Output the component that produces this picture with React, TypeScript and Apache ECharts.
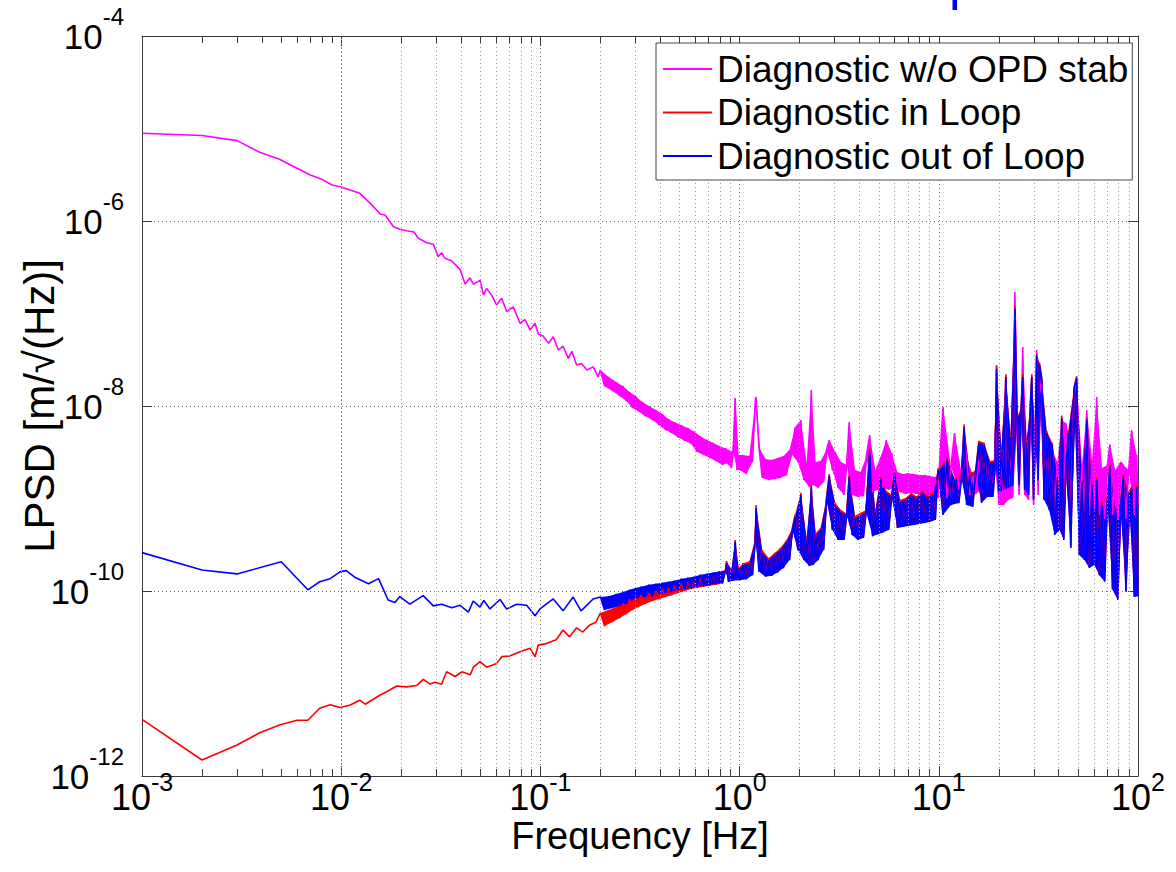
import React, { useEffect, useRef } from 'react';
import * as echarts from 'echarts';

const FONT = "'Liberation Sans', Arial, Helvetica, sans-serif";

const seriesNames = ['Diagnostic w/o OPD stab', 'Diagnostic in Loop', 'Diagnostic out of Loop'];
const seriesColors = ['#FF00FF', '#FF0000', '#0000FF'];
const xAxisTitle = 'Frequency [Hz]';
const yAxisTitle = 'LPSD [m/\u221A(Hz)]';
const croppedTitle = 'p';

// ---- low-frequency parts (read point by point) ----
const magentaLowF = [0.001, 0.002, 0.003, 0.0039, 0.0049, 0.006, 0.007, 0.008, 0.009, 0.0099,
  0.0124, 0.014, 0.0157, 0.0166, 0.0183, 0.0197, 0.0213, 0.0232, 0.0244, 0.0269,
  0.029, 0.0307, 0.0319, 0.0332, 0.0359, 0.0395, 0.0419, 0.0443, 0.0461, 0.0498,
  0.0518, 0.0537, 0.0569, 0.0603, 0.0639, 0.0677, 0.0731, 0.079, 0.0837, 0.0887,
  0.094, 0.0975, 0.103, 0.11, 0.116, 0.123, 0.13, 0.138, 0.144, 0.152,
  0.161, 0.171, 0.184, 0.195];
const magentaLow = [8.9e-6, 8.4e-6, 7.4e-6, 5.53e-6, 4.65e-6, 3.72e-6, 3.14e-6, 2.82e-6, 2.45e-6, 2.35e-6,
  1.99e-6, 1.55e-6, 1.19e-6, 1.16e-6, 8.67e-7, 8.13e-7, 7.85e-7, 7.6e-7, 6.5e-7, 5.83e-7,
  5.6e-7, 4.11e-7, 4.55e-7, 3.95e-7, 3.7e-7, 3.0e-7, 2.08e-7, 2.43e-7, 2.08e-7, 2.28e-7,
  1.58e-7, 1.87e-7, 1.58e-7, 1.24e-7, 1.46e-7, 1.05e-7, 1.18e-7, 7.84e-8, 8.6e-8, 6.64e-8,
  7.84e-8, 6.0e-8, 5.72e-8, 4.77e-8, 5.6e-8, 4.03e-8, 4.43e-8, 3.27e-8, 3.9e-8, 2.77e-8,
  2.88e-8, 2.45e-8, 2.65e-8, 2.07e-8];

const redLowF = [0.001, 0.002, 0.003, 0.0039, 0.0049, 0.006, 0.0068, 0.0078, 0.0088, 0.0099,
  0.0111, 0.0124, 0.0132, 0.0157, 0.0169, 0.019, 0.0213, 0.0239, 0.0258, 0.0279,
  0.0296, 0.0319, 0.0338, 0.0373, 0.0404, 0.0444, 0.0461, 0.0498, 0.0537, 0.0603,
  0.0639, 0.07, 0.079, 0.0887, 0.094, 0.0975, 0.107, 0.12, 0.13, 0.14,
  0.152, 0.163, 0.177, 0.19];
const redLow = [4.1e-12, 1.49e-12, 2.16e-12, 2.94e-12, 3.56e-12, 4.0e-12, 4.0e-12, 5.4e-12, 5.9e-12, 5.5e-12,
  5.86e-12, 6.6e-12, 5.97e-12, 7.5e-12, 8.15e-12, 9.4e-12, 9.2e-12, 9.5e-12, 1.11e-11, 9.9e-12,
  1.03e-11, 9.8e-12, 1.34e-11, 1.19e-11, 1.34e-11, 1.24e-11, 1.5e-11, 1.72e-11, 1.5e-11, 1.65e-11,
  1.95e-11, 1.98e-11, 2.2e-11, 2.4e-11, 1.95e-11, 2.6e-11, 2.7e-11, 2.97e-11, 3.78e-11, 3.2e-11,
  4.0e-11, 3.6e-11, 4.3e-11, 4.6e-11];

const blueLowF = [0.001, 0.002, 0.003, 0.005, 0.0068, 0.0078, 0.0088, 0.0099, 0.0106, 0.0117,
  0.0137, 0.0154, 0.0172, 0.0186, 0.0197, 0.0221, 0.0258, 0.029, 0.0319, 0.0359,
  0.0395, 0.0435, 0.046, 0.0498, 0.052, 0.0558, 0.0627, 0.0677, 0.076, 0.0853,
  0.094, 0.0995, 0.116, 0.13, 0.146, 0.16, 0.184];
const blueLow = [2.6e-10, 1.69e-10, 1.53e-10, 2.07e-10, 1.03e-10, 1.26e-10, 1.36e-10, 1.62e-10, 1.66e-10, 1.41e-10,
  1.2e-10, 1.36e-10, 8.0e-11, 7.5e-11, 8.7e-11, 7.2e-11, 8.9e-11, 6.9e-11, 7.2e-11, 6.6e-11,
  7.0e-11, 5.9e-11, 7.8e-11, 6.7e-11, 7.9e-11, 6.4e-11, 8.1e-11, 6.4e-11, 7.2e-11, 7.0e-11,
  5.4e-11, 6.4e-11, 8.2e-11, 6.1e-11, 8.6e-11, 6.1e-11, 8.2e-11];

// ---- dense noisy part: shared frequency bins 0.2 Hz .. 100 Hz ----
const bandFreq = [
  0.20, 0.21, 0.22, 0.23, 0.24, 0.25, 0.26, 0.27, 0.28, 0.29,
  0.30, 0.31, 0.32, 0.335, 0.35, 0.365, 0.38, 0.395, 0.41, 0.425,
  0.44, 0.455, 0.47, 0.49, 0.51, 0.53, 0.55, 0.57, 0.59, 0.61,
  0.635, 0.66, 0.685, 0.71, 0.735, 0.76, 0.79, 0.82, 0.85, 0.86,
  0.88, 0.91, 0.93, 0.95, 0.97, 0.99,
  1.0, 1.04, 1.08, 1.12, 1.16, 1.2, 1.21, 1.25, 1.3, 1.35,
  1.4, 1.45, 1.5, 1.55, 1.6, 1.66, 1.72, 1.78, 1.84, 1.9,
  1.96, 2.03, 2.1, 2.17, 2.24, 2.29, 2.34, 2.41, 2.48, 2.55,
  2.64, 2.73, 2.82, 2.92, 3.02, 3.12, 3.23, 3.34, 3.45, 3.55,
  3.67, 3.8, 3.92, 4.05, 4.18, 4.32, 4.5, 4.65, 4.8, 4.95,
  5.1, 5.25, 5.45, 5.6, 5.8, 6.0, 6.2, 6.4, 6.6, 6.8,
  7.0, 7.25, 7.5, 7.75, 8.0, 8.25, 8.5, 8.75, 9.0, 9.3,
  9.6, 9.9,
  10, 10.5, 11, 11.5, 12, 12.6, 13, 13.4, 13.8, 14.3,
  14.8, 15.3, 15.9, 16.4, 16.9, 17.5, 18.1, 18.7, 19.2, 19.5,
  20, 20.6, 21.2, 21.7, 22.3, 22.9, 23.5, 24.1, 24.7, 25.3,
  25.9, 26.4, 27, 27.6, 28.2, 28.8, 29.3, 29.9, 30.5, 31,
  31.5, 32, 32.9, 33.8, 34.8, 35.8, 37.1, 38.2, 39.4, 40.4,
  41.4, 42.4, 43.4, 44.7, 46, 47.7, 49.2, 50.7, 52.3, 53.8,
  55.3, 57, 58.8, 60.4, 62, 64, 66, 68, 70.2, 72.3,
  74.5, 76.8, 79.2, 81.7, 84.4, 87, 89.8, 92.9, 95.8, 98.5,
  100];

const magentaBand = [
  2.45e-8, 1.64e-8, 2.06e-8, 1.45e-8, 1.82e-8, 1.28e-8, 1.64e-8, 1.13e-8, 1.42e-8, 9.5e-9,
  1.28e-8, 8.8e-9, 1.13e-8, 7.8e-9, 1.0e-8, 7.06e-9, 9.06e-9, 6.2e-9, 8.2e-9, 5.5e-9,
  7.2e-9, 5.1e-9, 6.7e-9, 4.6e-9, 6.2e-9, 4.2e-9, 5.8e-9, 3.9e-9, 5.3e-9, 3.2e-9,
  4.7e-9, 2.95e-9, 4.3e-9, 2.74e-9, 4.0e-9, 2.54e-9, 3.7e-9, 2.3e-9, 3.5e-9, 2.4e-9,
  3.34e-9, 2.14e-9, 3.2e-9, 1.22e-8, 2.03e-9, 2.95e-9,
  2.03e-9, 2.95e-9, 1.84e-9, 2.88e-9, 2.48e-9, 1.16e-8, 1.25e-8, 3.6e-9, 1.67e-9, 2.67e-9,
  1.58e-9, 2.61e-9, 1.62e-9, 2.74e-9, 1.67e-9, 2.88e-9, 1.78e-9, 3.34e-9, 2.95e-9, 5.93e-9,
  2.48e-9, 7.06e-9, 1.58e-9, 2.42e-9, 1.33e-9, 1.49e-8, 1.4e-9, 2.48e-9, 1.3e-9, 2.54e-9,
  1.5e-9, 3.34e-9, 4.29e-9, 2.03e-9, 3.2e-9, 1.3e-9, 2.48e-9, 1.09e-9, 2.3e-9, 6.7e-9,
  1.09e-9, 2.03e-9, 1.04e-9, 1.93e-9, 1.06e-9, 2.81e-9, 4.85e-9, 1.17e-9, 2.03e-9, 1.24e-9,
  2.81e-9, 1.3e-9, 4.29e-9, 1.24e-9, 3.1e-9, 1.3e-9, 1.93e-9, 1.17e-9, 1.84e-9, 1.12e-9,
  1.88e-9, 1.15e-9, 1.84e-9, 1.12e-9, 1.8e-9, 1.09e-9, 1.8e-9, 1.06e-9, 1.75e-9, 1.04e-9,
  1.71e-9, 1.01e-9,
  1.75e-9, 9.75e-9, 1.01e-9, 2.2e-9, 5.1e-9, 1.24e-9, 1.9e-9, 4.29e-9, 2.81e-9, 1.09e-9,
  1.8e-9, 1.12e-9, 2.6e-9, 1.24e-9, 3.2e-9, 1.3e-9, 2.1e-9, 1.24e-9, 2.1e-9, 2.77e-8,
  8.5e-10, 2.95e-9, 8.5e-10, 2.06e-8, 9.64e-10, 4.29e-9, 1.01e-9, 1.71e-7, 5.5e-9, 1.09e-9,
  7.06e-9, 4.35e-8, 1.09e-9, 4.29e-9, 9.64e-10, 7.06e-9, 1.7e-8, 8.5e-10, 4.29e-9, 4.03e-8,
  1.09e-9, 1.91e-8, 1.33e-8, 9.64e-10, 4.29e-9, 8.5e-10, 3.34e-9, 7.52e-10, 2.48e-9, 7.1e-10,
  7.06e-9, 7.1e-10, 6.55e-9, 4.29e-9, 6.64e-10, 1.33e-8, 1.91e-8, 6.64e-10, 2.3e-9, 7.1e-10,
  9.06e-9, 6.64e-10, 2.61e-9, 7.52e-10, 1.25e-8, 6.64e-10, 2.14e-9, 6.0e-10, 2.3e-9, 3.86e-9,
  6.64e-10, 2.03e-9, 5.86e-10, 2.48e-9, 2.3e-9, 6.0e-10, 2.03e-9, 5.51e-9, 6.64e-10, 2.95e-9,
  8.5e-10];

const redBand = [
  5.78e-11, 4.19e-11, 6.24e-11, 4.63e-11, 6.7e-11, 5.1e-11, 7.4e-11, 5.64e-11, 8.2e-11, 6.24e-11,
  8.6e-11, 6.7e-11, 9.0e-11, 7.25e-11, 9.5e-11, 7.8e-11, 1.0e-10, 8.2e-11, 1.05e-10, 8.6e-11,
  1.08e-10, 9.0e-11, 1.14e-10, 9.5e-11, 1.2e-10, 1.0e-10, 1.26e-10, 1.05e-10, 1.31e-10, 1.08e-10,
  1.39e-10, 1.11e-10, 1.46e-10, 1.14e-10, 1.54e-10, 1.17e-10, 1.62e-10, 1.2e-10, 1.69e-10, 2.1e-10,
  1.26e-10, 1.73e-10, 1.31e-10, 3.56e-10, 1.34e-10, 1.77e-10,
  1.34e-10, 2.0e-10, 1.37e-10, 2.1e-10, 1.52e-10, 3.74e-10, 8.5e-10, 1.66e-10, 2.77e-10, 1.46e-10,
  2.27e-10, 1.5e-10, 2.58e-10, 1.62e-10, 2.92e-10, 1.82e-10, 3.56e-10, 2.2e-10, 4.8e-10, 6.7e-10,
  2.84e-10, 1.15e-9, 2.2e-10, 3.74e-10, 1.91e-10, 1.4e-9, 1.96e-10, 4.23e-10, 2.2e-10, 4.8e-10,
  2.84e-10, 1.01e-9, 1.84e-9, 4.7e-10, 9.0e-10, 3.65e-10, 7.5e-10, 3.65e-10, 6.9e-10, 1.8e-9,
  4.13e-10, 6.5e-10, 3.65e-10, 7.0e-10, 3.84e-10, 7.5e-10, 3.45e-9, 4.0e-10, 7.5e-10, 4.2e-10,
  1.72e-9, 4.4e-10, 1.21e-9, 4.7e-10, 1.1e-9, 1.94e-9, 4.9e-10, 9.7e-10, 5.05e-10, 1.01e-9,
  5.17e-10, 1.15e-9, 5.3e-10, 1.06e-9, 5.45e-10, 1.21e-9, 5.58e-10, 1.09e-9, 5.7e-10, 1.15e-9,
  6.0e-10, 2.08e-9,
  2.1e-9, 6.9e-10, 2.75e-9, 8.8e-10, 1.66e-9, 9.2e-10, 1.75e-9, 6.3e-9, 8.8e-10, 1.9e-9,
  8.4e-10, 1.98e-9, 4.2e-9, 9.2e-10, 4.0e-9, 1.08e-9, 2.55e-9, 1.08e-9, 2.6e-9, 2.7e-8,
  1.21e-9, 3.4e-9, 1.28e-9, 2.2e-8, 1.35e-9, 4.9e-9, 1.42e-9, 1.2e-7, 7.5e-9, 1.45e-9,
  9.6e-9, 2.2e-8, 1.28e-9, 4.2e-9, 1.13e-9, 1.04e-8, 2.2e-8, 1.0e-9, 4.5e-9, 3.7e-8,
  1.64e-9, 2.95e-8, 2.0e-8, 1.0e-9, 5.4e-9, 7.8e-10, 4.0e-9, 4.2e-10, 1.75e-9, 4.7e-10,
  7.9e-9, 3.7e-10, 2.15e-9, 5.4e-9, 3.0e-10, 1.58e-8, 2.1e-8, 2.55e-10, 1.58e-9, 2.25e-10,
  7.5e-9, 1.84e-10, 1.48e-9, 1.98e-10, 1.66e-9, 1.54e-10, 9.0e-10, 1.31e-10, 1.02e-9, 2.32e-9,
  1.07e-10, 8.0e-10, 8.3e-11, 9.0e-10, 1.82e-9, 1.02e-10, 1.16e-9, 1.32e-9, 9.0e-11, 1.41e-9,
  9.2e-11];

const blueBand = [
  8.6e-11, 6.24e-11, 8.8e-11, 6.55e-11, 9.3e-11, 6.9e-11, 9.75e-11, 7.25e-11, 1.03e-10, 8.0e-11,
  1.08e-10, 8.4e-11, 1.11e-10, 8.6e-11, 1.17e-10, 8.8e-11, 1.2e-10, 9.3e-11, 1.23e-10, 9.5e-11,
  1.26e-10, 9.75e-11, 1.29e-10, 1.03e-10, 1.36e-10, 1.05e-10, 1.39e-10, 1.08e-10, 1.43e-10, 1.11e-10,
  1.5e-10, 1.14e-10, 1.54e-10, 1.17e-10, 1.58e-10, 1.2e-10, 1.62e-10, 1.23e-10, 1.66e-10, 2.0e-10,
  1.26e-10, 1.69e-10, 1.29e-10, 3.4e-10, 1.31e-10, 1.73e-10,
  1.31e-10, 1.91e-10, 1.34e-10, 2.0e-10, 1.48e-10, 3.56e-10, 7.9e-10, 1.62e-10, 2.58e-10, 1.43e-10,
  2.16e-10, 1.46e-10, 2.46e-10, 1.58e-10, 2.77e-10, 1.77e-10, 3.39e-10, 2.16e-10, 4.57e-10, 6.3e-10,
  2.77e-10, 1.09e-9, 2.16e-10, 3.56e-10, 1.86e-10, 1.33e-9, 1.91e-10, 4.03e-10, 2.16e-10, 4.57e-10,
  2.77e-10, 9.64e-10, 1.75e-9, 4.57e-10, 8.5e-10, 3.56e-10, 7.15e-10, 3.56e-10, 6.6e-10, 1.71e-9,
  4.03e-10, 6.15e-10, 3.56e-10, 6.6e-10, 3.74e-10, 7.15e-10, 3.27e-9, 3.9e-10, 7.15e-10, 4.1e-10,
  1.63e-9, 4.3e-10, 1.15e-9, 4.57e-10, 1.04e-9, 1.84e-9, 4.8e-10, 9.2e-10, 4.92e-10, 9.64e-10,
  5.05e-10, 1.09e-9, 5.17e-10, 1.01e-9, 5.3e-10, 1.15e-9, 5.45e-10, 1.04e-9, 5.58e-10, 1.09e-9,
  5.86e-10, 1.98e-9,
  1.98e-9, 6.64e-10, 2.61e-9, 8.5e-10, 1.58e-9, 8.93e-10, 1.66e-9, 5.93e-9, 8.5e-10, 1.8e-9,
  8.1e-10, 1.88e-9, 3.98e-9, 8.93e-10, 3.8e-9, 1.04e-9, 2.42e-9, 1.04e-9, 2.48e-9, 2.51e-8,
  1.17e-9, 3.2e-9, 1.24e-9, 2.06e-8, 1.3e-9, 4.62e-9, 1.37e-9, 1.12e-7, 7.06e-9, 1.4e-9,
  9.06e-9, 2.06e-8, 1.24e-9, 3.98e-9, 1.09e-9, 9.8e-9, 2.06e-8, 9.64e-10, 4.29e-9, 3.48e-8,
  1.58e-9, 2.77e-8, 1.91e-8, 9.64e-10, 5.1e-9, 7.52e-10, 3.8e-9, 4.03e-10, 1.66e-9, 4.57e-10,
  7.4e-9, 3.56e-10, 2.03e-9, 5.1e-9, 2.92e-10, 1.49e-8, 2.0e-8, 2.45e-10, 1.5e-9, 2.16e-10,
  7.06e-9, 1.77e-10, 1.4e-9, 1.91e-10, 1.58e-9, 1.48e-10, 8.5e-10, 1.26e-10, 9.64e-10, 2.19e-9,
  1.03e-10, 7.52e-10, 8.0e-11, 8.5e-10, 1.71e-9, 9.8e-11, 1.09e-9, 1.24e-9, 8.6e-11, 1.33e-9,
  8.8e-11];

// axis ranges (decades)
const X_MIN = 1e-3;
const X_MAX = 1e2;
const Y_MIN = 1e-12;
const Y_MAX = 1e-4;
const xDecades = [1e-3, 1e-2, 1e-1, 1, 10];
const minorMultipliers = [2, 3, 4, 5, 6, 7, 8, 9];

function pairs(fs: number[], vs: number[]) {
  const out: number[][] = [];
  const n = Math.min(fs.length, vs.length);
  for (let i = 0; i < n; i++) out.push([fs[i], vs[i]]);
  return out;
}

const supLabel = (v: number) => {
  const e = Math.round(Math.log10(v));
  return `{b|10}{s|${e}}`;
};

export default function App() {
  const ref = useRef<HTMLDivElement>(null);

  useEffect(() => {
    if (!ref.current) return;
    const chart = echarts.init(ref.current, undefined, { renderer: 'svg' });

    const minorFreqs: number[] = [];
    xDecades.forEach((d) => minorMultipliers.forEach((m) => minorFreqs.push(+(d * m).toPrecision(3))));
    // minor tick length: 7 px on a 740 px tall, 8-decade axis
    const tickFactor = Math.pow(10, (7 * 8) / 740);

    const frameColor = '#3a3a3a';
    const axisCommon = {
      type: 'log' as const,
      axisLine: { show: true, onZero: false, lineStyle: { color: frameColor, width: 1 } },
      axisTick: { show: true, inside: true, length: 10, lineStyle: { color: frameColor, width: 1 } },
      nameMoveOverlap: false,
    };

    const xRich = {
      b: { fontSize: 36, lineHeight: 36, fontFamily: FONT, color: '#000' },
      s: { fontSize: 25, lineHeight: 25, fontFamily: FONT, color: '#000', padding: [0, 0, 30, 0] },
    };
    const yRich = {
      b: { fontSize: 35, lineHeight: 35, fontFamily: FONT, color: '#000' },
      s: { fontSize: 24, lineHeight: 24, fontFamily: FONT, color: '#000', padding: [0, 0, 40, 0] },
    };

    const lineSeries = (name: string, color: string, data: number[][]) => ({
      name,
      type: 'line',
      data,
      showSymbol: false,
      symbol: 'none',
      color,
      lineStyle: { color, width: 1.6 },
      z: 3,
      silent: true,
    });

    // fills the noisy band between consecutive bins (triangle strip)
    const fillSeries = (name: string, color: string, data: number[][]) => ({
      name,
      type: 'custom',
      coordinateSystem: 'cartesian2d',
      data,
      encode: { x: 0, y: 1 },
      clip: true,
      silent: true,
      z: 3,
      renderItem: (params: any, api: any) => {
        const i = params.dataIndex;
        if (i === 0 || i >= data.length - 1) return { type: 'group', children: [] };
        const p0 = api.coord(data[i - 1]);
        const p1 = api.coord(data[i]);
        const p2 = api.coord(data[i + 1]);
        return { type: 'polygon', shape: { points: [p0, p1, p2] }, style: { fill: color } };
      },
    });

    const magentaData = [...pairs(magentaLowF, magentaLow), ...pairs(bandFreq, magentaBand)];
    const redData = [...pairs(redLowF, redLow), ...pairs(bandFreq, redBand)];
    const blueData = [...pairs(blueLowF, blueLow), ...pairs(bandFreq, blueBand)];

    const option: any = {
      animation: false,
      backgroundColor: '#ffffff',
      textStyle: { fontFamily: FONT },
      grid: { left: 142, top: 36, width: 996, height: 740, containLabel: false, outerBoundsMode: 'none' },
      legend: {
        data: seriesNames,
        orient: 'vertical',
        left: 656,
        top: 43,
        icon: 'rect',
        itemWidth: 49,
        itemHeight: 2,
        itemGap: 3.5,
        padding: [6, 4, 4, 7],
        borderColor: '#444',
        borderWidth: 1,
        backgroundColor: '#ffffff',
        selectedMode: false,
        textStyle: { fontSize: 37, lineHeight: 40, fontFamily: FONT, color: '#000' },
        z: 10,
      },
      xAxis: [
        {
          ...axisCommon,
          logBase: 10,
          min: X_MIN,
          max: X_MAX,
          position: 'bottom',
          axisLabel: { formatter: supLabel, margin: 3, rich: xRich },
          splitLine: { show: true, lineStyle: { color: '#6a6a6a', type: [1, 3], width: 1 } },
          name: xAxisTitle,
          nameLocation: 'middle',
          nameGap: 41,
          nameTextStyle: { fontSize: 38, lineHeight: 38, fontFamily: FONT, color: '#000' },
        },
        {
          ...axisCommon,
          logBase: 10,
          min: X_MIN,
          max: X_MAX,
          position: 'top',
          axisLabel: { show: false },
          splitLine: { show: false },
        },
      ],
      yAxis: [
        {
          ...axisCommon,
          logBase: 100,
          min: Y_MIN,
          max: Y_MAX,
          position: 'left',
          axisLabel: { formatter: supLabel, margin: 18, rich: yRich },
          splitLine: { show: true, lineStyle: { color: '#6a6a6a', type: [1, 3], width: 1 } },
          name: yAxisTitle,
          nameLocation: 'middle',
          nameGap: 82,
          nameRotate: 90,
          nameTextStyle: { fontSize: 42, fontFamily: FONT, color: '#000' },
        },
        {
          ...axisCommon,
          logBase: 100,
          min: Y_MIN,
          max: Y_MAX,
          position: 'right',
          axisLabel: { show: false },
          splitLine: { show: false },
        },
      ],
      graphic: [
        {
          type: 'text',
          x: 949,
          y: -19,
          silent: true,
          z: 20,
          style: {
            text: croppedTitle,
            fontSize: 52,
            fontFamily: FONT,
            fill: '#0000FF',
            align: 'left',
            verticalAlign: 'middle',
            textAlign: 'left',
            textVerticalAlign: 'middle',
          },
        },
      ],
      series: [
        {
          name: 'minor-grid',
          type: 'line',
          data: [],
          silent: true,
          z: 1,
          markLine: {
            silent: true,
            symbol: ['none', 'none'],
            label: { show: false },
            animation: false,
            lineStyle: { color: '#9a9a9a', type: [1, 3], width: 1 },
            data: [
              ...minorFreqs.map((f) => ({ xAxis: f })),
              ...minorFreqs.map((f) => [
                { coord: [f, Y_MIN], lineStyle: { color: frameColor, type: 'solid', width: 1 } },
                { coord: [f, Y_MIN * tickFactor] },
              ]),
              ...minorFreqs.map((f) => [
                { coord: [f, Y_MAX], lineStyle: { color: frameColor, type: 'solid', width: 1 } },
                { coord: [f, Y_MAX / tickFactor] },
              ]),
            ],
          },
        },
        fillSeries('fill-magenta', seriesColors[0], pairs(bandFreq, magentaBand)),
        lineSeries(seriesNames[0], seriesColors[0], magentaData),
        fillSeries('fill-red', seriesColors[1], pairs(bandFreq, redBand)),
        lineSeries(seriesNames[1], seriesColors[1], redData),
        fillSeries('fill-blue', seriesColors[2], pairs(bandFreq, blueBand)),
        lineSeries(seriesNames[2], seriesColors[2], blueData),
      ],
    };

    chart.setOption(option);
    return () => chart.dispose();
  }, []);

  return (
    <div
      ref={ref}
      style={{ position: 'fixed', left: 0, top: 0, width: 1176, height: 872, background: '#ffffff' }}
    />
  );
}
